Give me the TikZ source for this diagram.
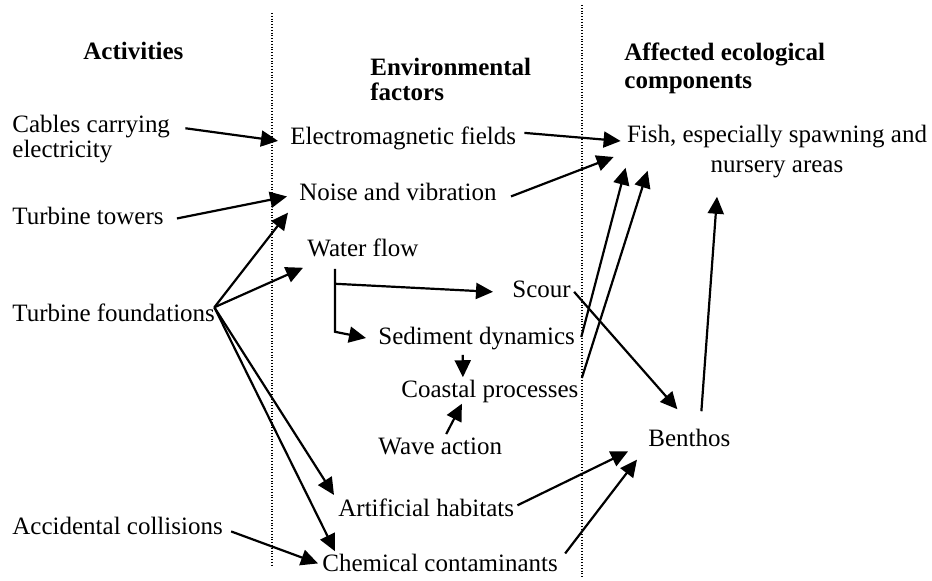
\documentclass[tikz,border=0pt]{standalone}
\usepackage{fontspec}
\setmainfont{Liberation Serif}
\usetikzlibrary{arrows.meta}

\begin{document}
\begin{tikzpicture}[
  x=0.5pt, y=-0.5pt,
  font=\fontsize{12.5}{13}\selectfont,
  item/.style={inner sep=2pt, anchor=base west},
  head/.style={item, font=\fontsize{12.5}{12.5}\selectfont\bfseries},
  arrow/.style={-{Triangle[length=8.5pt,width=8pt]}, line width=1.1pt},
  divider/.style={line width=0.6pt, dash pattern=on 0.5pt off 0.9pt}
]
\useasboundingbox (0,0) rectangle (932,581);

% column headings
\node[head] (hact) at (79,60) {Activities};
\node[head, anchor=north west, align=left] (henv) at (366,54) {Environmental\\factors};
\node[head, anchor=north west, align=left, font=\fontsize{12.5}{14}\selectfont\bfseries] (heco) at (620,39) {Affected ecological\\components};

\draw[divider] (272,13) -- (272,567);
\draw[divider] (582,5) -- (582,578);

% activities
\node[item, anchor=north west, align=left, font=\fontsize{12.5}{12.5}\selectfont] (cables) at (8,111) {Cables carrying\\electricity};
\node[item] (towers) at (8,225) {Turbine towers};
\node[item] (found) at (8,322) {Turbine foundations};
\node[item] (acc) at (8,535) {Accidental collisions};

% environmental factors
\node[item] (emf) at (286,145) {Electromagnetic fields};
\node[item] (noise) at (295,201) {Noise and vibration};
\node[item] (water) at (303,257) {Water flow};
\node[item] (scour) at (508,298) {Scour};
\node[item] (sed) at (374,345) {Sediment dynamics};
\node[item] (coast) at (397,398) {Coastal processes};
\node[item] (wave) at (374,455) {Wave action};
\node[item] (art) at (334,517) {Artificial habitats};
\node[item] (chem) at (318,572) {Chemical contaminants};

% ecological components
\node[item, anchor=center, align=center, font=\fontsize{12.5}{15}\selectfont] (fish) at (777,152) {Fish, especially spawning and\\nursery areas};
\node[item] (benthos) at (644,447) {Benthos};

\draw[arrow] ([shift={(11,-11)}]cables.east) -- ([shift={(-8,2)}]emf.west);
\draw[arrow] ([shift={(9,2)}]towers.east) -- ([shift={(-8,4)}]noise.west);
\draw[arrow] ([shift={(-5,-6)}]found.east) -- ([shift={(-7,7)}]noise.south west);
\draw[arrow] ([shift={(-5,-6)}]found.east) -- ([shift={(0,6)}]water.south west);
\draw[arrow] ([shift={(-5,-6)}]found.east) -- (art.north west);
\draw[arrow] ([shift={(-5,-6)}]found.east) -- ([shift={(17,1)}]chem.north west);
\draw[arrow] ([shift={(4,5)}]acc.east) -- (chem.west);

\draw[arrow] ([shift={(-28,22)}]water.south) -- ([shift={(-15,2)}]scour.west);
\draw[arrow] ([shift={(-28,7)}]water.south) -- ([shift={(-28,70)}]water.south) -- ([shift={(-8,-1)}]sed.west);
\draw[arrow] ([shift={(-14,0)}]sed.south) -- ([shift={(-27,1)}]coast.north);
\draw[arrow] ([shift={(6,0)}]wave.north) -- ([shift={(-28,-4)}]coast.south);

\draw[arrow] ([shift={(4,-6)}]emf.east) -- ([shift={(-2,-11)}]fish.west);
\draw[arrow] ([shift={(10,4)}]noise.east) -- ([shift={(-9,5)}]fish.west);
\draw[arrow] ([shift={(2,-2)}]sed.east) -- ([shift={(3,-15)}]fish.south west);
\draw[arrow] ([shift={(-1,-14)}]coast.east) -- ([shift={(25,-12)}]fish.south west);
\draw[arrow] ([shift={(-1,2)}]scour.east) -- ([shift={(-12,-16)}]benthos.north);
\draw[arrow] ([shift={(-1,-3)}]art.east) -- ([shift={(-16,13)}]benthos.west);
\draw[arrow] ([shift={(3,-10)}]chem.east) -- ([shift={(-7,8)}]benthos.south west);
\draw[arrow] ([shift={(12,-14)}]benthos.north) -- ([shift={(-60,14)}]fish.south);
\end{tikzpicture}
\end{document}
